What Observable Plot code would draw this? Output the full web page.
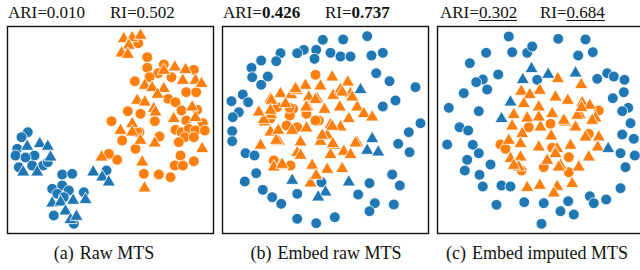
<!DOCTYPE html>
<html><head><meta charset="utf-8">
<script src="https://cdn.jsdelivr.net/npm/d3@7"></script>
<script src="https://cdn.jsdelivr.net/npm/@observablehq/plot@0.6"></script>
<style>
html,body{margin:0;padding:0;background:#fff;}
#root{position:relative;width:640px;height:270px;overflow:hidden;background:#fff;font-family:"Liberation Serif","DejaVu Serif",serif;color:#111;}
.t{position:absolute;font-size:17px;line-height:17px;white-space:nowrap;}
.cap{position:absolute;font-size:18px;line-height:18px;white-space:nowrap;text-align:center;width:220px;}
.cap .lab{margin-right:6px;}
.p{position:absolute;}
u{text-underline-offset:2px;text-decoration-thickness:1px;}
</style></head>
<body><div id="root"></div>
<script>
// ---- data: t-SNE embeddings (panel-relative units, y downward) ----
const titlesARI = ["0.010", "0.426", "0.302"];
const titlesRI = ["0.502", "0.737", "0.684"];
const captions = ["(a)", "(b)", "(c)"];
const captionText = ["Raw MTS", "Embed raw MTS", "Embed imputed MTS"];

// Panel (a) Raw MTS
const aBlueCircle = [[20.3,105.7],[14,110.7],[9.7,122.3],[27,129],[8,129],[18,131],[11.3,140.7],[24.7,139],[35.7,139],[40.3,135.7],[54.7,148],[64.7,147.3],[44.7,162.3],[54.7,159],[61.3,164],[49.7,167.3],[76.3,165.7],[56.3,170.7],[46.3,189],[66.3,197.3],[99,144]];
const aBlueTri = [[19.7,120],[32.3,117.3],[40.3,120],[15.7,145.7],[29.7,145.7],[43,130.7],[44.7,176.7],[53,175.7],[65.7,174],[78,173.3],[58,184.7],[63,193.3],[69,190],[85.7,145.7],[94.7,150.7],[101.3,155.7]];
const aOrangeCircle = [[130.7,16.7],[139.7,30.7],[139.7,41.3],[156.3,38],[150.7,46.7],[142,50.7],[164,50.7],[186.3,43.3],[127.3,54.7],[160.7,72.3],[168,75.7],[178.7,65.7],[188.7,65.7],[120.3,84.7],[133,87.3],[147.3,94.7],[174,84],[189.7,83.3],[178.7,94],[195.3,96.7],[104,94.7],[168,103.3],[174,105.7],[181.3,102.3],[188,104],[197.3,104],[177.3,110.7],[171.3,115.7],[186.3,110.7],[114.7,114],[132,105.7],[152,110],[128,122.3],[102,128],[109.7,133.3],[173,129],[167.3,139],[175.3,139],[186.3,134.7],[136.3,147.3],[151.3,148],[163,150.7],[101.3,127.3],[129.7,105.7]];
const aOrangeTri = [[116.3,12.3],[124.7,11.3],[133,9],[121.3,19],[114,26.7],[120.3,28],[167.3,40.7],[156.3,44],[178,43.3],[175.3,54],[188,54],[194,57.3],[137.3,59],[144.7,61.3],[156.3,62.3],[150,68],[129.7,74],[137.3,75.7],[146.3,82.3],[148,85.7],[124.7,97.3],[184.7,80.7],[166.3,92.3],[188,91.3],[113,104],[124.7,105.7],[133,114],[147.3,116.7],[94,130.7],[194.7,122.3],[134.7,135.7],[137,161.7]];

// Panel (b) Embed raw MTS
const bBlueCircle = [[100.3,13.3],[120.7,13],[144.7,9.7],[81.3,23.3],[74.7,26.7],[93.7,23.3],[92,32.3],[58,26.7],[53.7,34.7],[38.7,34],[29,41.3],[29.7,50.7],[45.3,50],[38.7,58.3],[108,26.3],[118,30],[128,30],[149,29],[160.3,26.3],[153.7,46.7],[167,54.7],[193,60.7],[20.3,68],[9,74.7],[25.7,75.7],[16.3,85.7],[10.3,90.7],[173,74],[160.3,80],[198,96.7],[186.3,105.7],[175.7,117.3],[187,125.7],[9.7,104.7],[9.7,114.7],[23,126.7],[32,129],[33.7,146.7],[22.3,155],[40.3,163.3],[49.7,170.7],[58.7,177.3],[74.7,167.3],[74.7,192.3],[93.7,196.7],[112.3,190.7],[135.7,168],[147,156.7],[152.3,176.7],[147,184.7],[169.7,148],[177.3,159],[171.3,178],[99,155.7]];
const bBlueTri = [[138,63.3],[149.7,112.3],[144.7,124],[155.7,125.7],[69.7,154],[126.3,155.7],[103,165.7],[95.7,170.7]];
const bOrangeCircle = [[93,48.3],[54.7,80.7],[70.7,82.3],[67.3,89],[84,87.3],[96.3,94],[64,99],[74.7,100.7],[51.3,134],[68,139],[67,81.3],[93,94],[48,92]];
const bOrangeTri = [[109.7,50.7],[125.3,55.7],[83,59],[98,59.7],[58,67.3],[68.7,68.3],[74.7,64],[86.3,70.7],[94.7,72.3],[110.7,69],[118,63],[128,67.3],[48,72.3],[63,77.3],[85.3,80.7],[102,83],[117.3,80.7],[134.7,80.7],[48.7,88.3],[141.3,87.3],[149.7,90.7],[126.3,92.3],[108,98.3],[118,100.7],[42,95.7],[69.7,104],[84,101.7],[48,105.7],[104.7,109],[56.3,115],[78,115.7],[98,115],[111.3,119],[134.7,116.3],[38,119],[121.3,125],[108,128.3],[128,128.3],[74.7,126.3],[58,139],[89.7,139],[104.7,143],[119.7,142.3],[51.3,140.7],[59.7,138],[78,129],[88,156.7],[93.7,149],[133,116.7],[110.3,117.3],[53.7,114],[55.7,104],[41.3,93.3],[49,74],[73,62.3],[119.7,65.7],[129.7,70.7],[93,73.3],[83.7,80.7],[109.7,100],[99.7,109],[36.3,85.7],[48,84]];

// Panel (c) Embed imputed MTS
const cBlueCircle = [[71.3,10],[120.7,12.3],[148,13],[48.7,26.3],[74.7,25.7],[89.7,26.3],[94.7,20],[140.7,29],[155.3,25.7],[32.3,36.7],[60.7,48],[45.3,53],[38.7,55.7],[49.7,63],[26.3,66.7],[99.7,53.3],[159.7,52.3],[169.7,46.7],[176.3,50],[187,53.3],[186.3,65.7],[175.3,71.7],[190.7,81.3],[184.7,84.7],[193,96.7],[184.7,108],[196.3,112.3],[183,126.7],[197.3,129],[188,140.7],[183,161.7],[168.7,173],[152.3,169.7],[156.3,176.7],[130.7,174.7],[136.3,188],[123,184.7],[106.3,176.7],[86.7,175.7],[104,197.3],[59,178.3],[64,159],[73,160],[45.3,160],[42,148.3],[27.3,144],[29.7,133.3],[41.3,126.7],[35.3,118.3],[53,138],[9.7,118],[11.3,81.3],[22,100.7],[30.7,104],[41.3,84.7]];
const cBlueTri = [[94,42.3],[85.3,53.3],[110.7,48],[138,46.7],[73,75.7],[64,92.3],[170.7,122.3]];
const cOrangeCircle = [[63,118],[68,122.3],[84,144],[114.7,121.3],[131.3,130.7],[131.3,145.7],[113,97.3],[161.3,84],[151.3,107.3],[106.3,140.7],[91.3,100.7]];
const cOrangeTri = [[120.3,52.3],[143.7,58.3],[83.7,65],[102.3,64],[92.3,68.3],[118,70.7],[130.3,74],[86.3,77.3],[101.3,80.7],[144.7,76.3],[152.3,79],[114.7,87.3],[142.3,88.3],[158,91.7],[89.7,91.7],[76.3,88.3],[74.7,99.7],[103,100.7],[128,95.7],[138,100.7],[113.7,109.7],[84.7,107.3],[71.3,114],[148,110.7],[161.3,110.7],[133,119],[119.7,122.3],[83,117.3],[160.3,120.7],[101.3,120.7],[83,130.7],[118,127.3],[73,132.3],[109.7,134],[151.3,130.7],[123,139],[141.3,140.7],[81.3,140.7],[89.7,161.3],[102.3,159],[119.7,160],[116.3,166.7],[134.7,157.3],[76.3,139],[126.3,94],[139.7,89],[154.7,94],[144,81.3],[101.3,90.7],[121.3,140.7]];

const panels = [
  {bc: aBlueCircle, bt: aBlueTri, oc: aOrangeCircle, ot: aOrangeTri},
  {bc: bBlueCircle, bt: bBlueTri, oc: bOrangeCircle, ot: bOrangeTri},
  {bc: cBlueCircle, bt: cBlueTri, oc: cOrangeCircle, ot: cOrangeTri}
];
const BLUE = "#1f77b4", ORANGE = "#ff7f0e";
const panelLeft = [6, 221, 436];
const PW = 208, PH = 209, TOP = 25;

const root = document.getElementById("root");
const toObj = arr => arr.map(([x, y]) => ({x, y}));

panels.forEach((p, i) => {
  const common = {x: "x", y: "y", stroke: "white", strokeWidth: 0.8};
  const chart = Plot.plot({
    width: PW, height: PH,
    marginTop: 1, marginBottom: 1, marginLeft: 1, marginRight: 1,
    x: {domain: [0, 206], axis: null},
    y: {domain: [0, 207], reverse: true, axis: null},
    marks: [
      Plot.dot(toObj(p.bc), {...common, fill: BLUE, r: 5.4}),
      Plot.dot(toObj(p.oc), {...common, fill: ORANGE, r: 5.4}),
      Plot.dot(toObj(p.ot), {...common, fill: ORANGE, r: 6.3, symbol: "triangle2"}),
      Plot.dot(toObj(p.bt), {...common, fill: BLUE, r: 6.3, symbol: "triangle2"}),
      Plot.frame({stroke: "#111", strokeWidth: 1.4})
    ]
  });
  chart.classList.add("p");
  chart.style.left = panelLeft[i] + "px";
  chart.style.top = TOP + "px";
  chart.style.overflow = "visible";
  root.appendChild(chart);
});

// titles
const ariLeft = [8, 223, 440], riLeft = [110, 325, 540];
const fmt = (v, i) => i === 1 ? `<b>${v}</b>` : i === 2 ? `<u>${v}</u>` : v;
titlesARI.forEach((v, i) => {
  const a = document.createElement("div");
  a.className = "t"; a.style.left = ariLeft[i] + "px"; a.style.top = "4px";
  a.innerHTML = "ARI=" + fmt(v, i);
  root.appendChild(a);
  const r = document.createElement("div");
  r.className = "t"; r.style.left = riLeft[i] + "px"; r.style.top = "4px";
  r.innerHTML = "RI=" + fmt(titlesRI[i], i);
  root.appendChild(r);
});
// captions
const capCenter = [104, 326, 537];
captions.forEach((c, i) => {
  const d = document.createElement("div");
  d.className = "cap";
  d.style.left = (capCenter[i] - 110) + "px";
  d.style.top = "244px";
  d.innerHTML = `<span class="lab">${c}</span>${captionText[i]}`;
  root.appendChild(d);
});
</script></body></html>
